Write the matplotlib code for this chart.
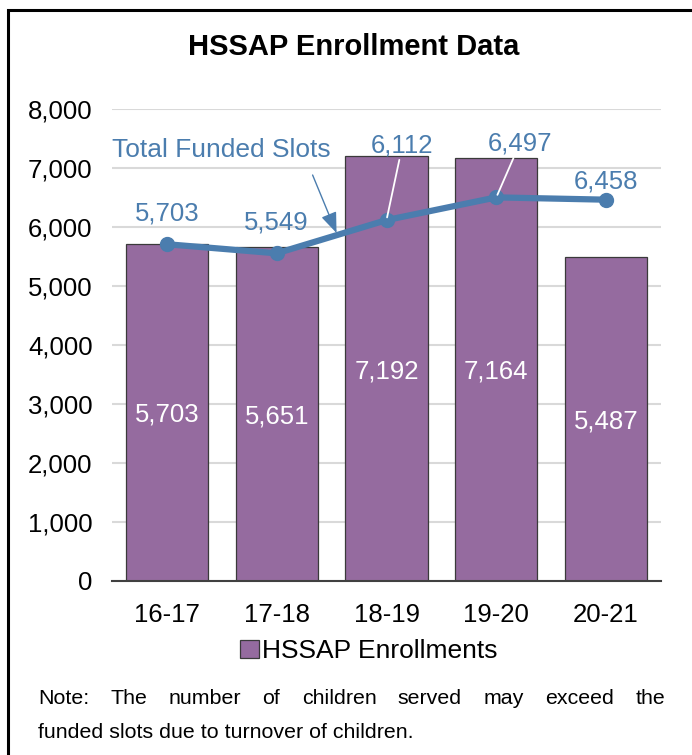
import matplotlib
matplotlib.use("Agg")
import matplotlib.pyplot as plt
from matplotlib.patches import Rectangle
from matplotlib.ticker import FuncFormatter

plt.rcParams['font.family'] = ['Liberation Sans', 'DejaVu Sans']

# ---- data ----
years = ["16-17", "17-18", "18-19", "19-20", "20-21"]
enrollments = [5703, 5651, 7192, 7164, 5487]
funded_slots = [5703, 5549, 6112, 6497, 6458]
y_ticks = [0, 1000, 2000, 3000, 4000, 5000, 6000, 7000, 8000]

title = "HSSAP Enrollment Data"
bar_name = "HSSAP Enrollments"
line_name = "Total Funded Slots"
note_lines = ["Note: The number of children served may exceed the",
              "funded slots due to turnover of children."]

# ---- style ----
BAR_COLOR = "#956B9F"
BAR_EDGE = "#3A3A3A"
LINE_COLOR = "#4B7DAE"
GRID_COLOR = "#D9D9D9"
FS = 18.5

W, H = 692, 755
fig = plt.figure(figsize=(W / 100, H / 100), dpi=100)

# outer frame of the chart area (runs off the right and bottom edges)
fig.patches.append(Rectangle((8 / W, -0.1), 1.2, 1.1 - 10 / H, transform=fig.transFigure,
                             fill=False, edgecolor="black", linewidth=2.2, clip_on=False))

ax = fig.add_axes([112 / W, 1 - 580.7 / H, (661 - 112) / W, (580.7 - 108.7) / H])
x = list(range(len(years)))

ax.bar(x, enrollments, width=0.75, color=BAR_COLOR, edgecolor=BAR_EDGE,
       linewidth=0.9, zorder=2)
for xi, v in zip(x, enrollments):
    ax.text(xi, v / 2, f"{v:,}", ha="center", va="center_baseline", color="white",
            fontsize=FS, zorder=3)

ax.plot(x, funded_slots, color=LINE_COLOR, linewidth=4.5, marker="o",
        markersize=10, zorder=4, solid_capstyle="round")

# value labels for the funded-slot line: (dx, dy) offsets in points, leader line flag
label_offsets = [(0, 22, False), (0, 22, False), (11.5, 54, True), (17, 39, True), (0, 13, False)]
for xi, v, (dx, dy, leader) in zip(x, funded_slots, label_offsets):
    props = None
    if leader:
        props = dict(arrowstyle="-", color="white", lw=1.3, shrinkA=0, shrinkB=2)
    ax.annotate(f"{v:,}", xy=(xi, v), xytext=(dx, dy), textcoords="offset points",
                ha="center", va="center", color=LINE_COLOR, fontsize=FS,
                arrowprops=props, zorder=5)

# series name with pointer arrow
ax.text(-0.5, 7300, line_name, ha="left", va="center", color=LINE_COLOR,
        fontsize=19, zorder=5)
ax.annotate("", xy=(1.545, 5893), xytext=(1.327, 6876),
            arrowprops=dict(arrowstyle="-|>,head_length=0.9,head_width=0.35",
                            color=LINE_COLOR, lw=1.0, mutation_scale=14,
                            shrinkA=0, shrinkB=0), zorder=5)

ax.set_xlim(-0.5, len(years) - 0.5)
ax.set_ylim(0, 8000)
ax.set_yticks(y_ticks)
ax.yaxis.set_major_formatter(FuncFormatter(lambda v, p: f"{int(v):,}"))
ax.set_xticks(x)
ax.set_xticklabels(years)
ax.tick_params(axis="y", length=0, pad=14, labelsize=FS)
ax.tick_params(axis="x", length=0, pad=16, labelsize=FS)
ax.grid(axis="y", color=GRID_COLOR, linewidth=1.5, zorder=0)
ax.set_axisbelow(True)
for s in ("left", "right", "top"):
    ax.spines[s].set_visible(False)
ax.spines["bottom"].set_color("#404040")
ax.spines["bottom"].set_linewidth(1.5)
ax.spines["bottom"].set_zorder(3)

fig.text(354 / W, 1 - 47 / H, title, ha="center", va="center", fontsize=21,
         fontweight="bold")

legend_handle = Rectangle((0, 0), 1, 1, facecolor=BAR_COLOR, edgecolor=BAR_EDGE, linewidth=0.9)
fig.legend([legend_handle], [bar_name], loc="center", bbox_to_anchor=(369 / W, 1 - 651 / H),
           frameon=False, fontsize=19, handlelength=0.7, handleheight=0.7,
           handletextpad=0.15, borderpad=0)

# note: first line justified between the left and right margins
fig.canvas.draw()
renderer = fig.canvas.get_renderer()
left_px, right_px = 38, 665
NOTE_FS = 15.4
words = note_lines[0].split()
word_texts = [fig.text(0, 1 - 697 / H, w, ha="left", va="center_baseline", fontsize=NOTE_FS)
              for w in words]
widths = [t.get_window_extent(renderer).width for t in word_texts]
gap = (right_px - left_px - sum(widths)) / (len(words) - 1)
pos = left_px
for t, w in zip(word_texts, widths):
    t.set_x(pos / W)
    pos += w + gap
fig.text(left_px / W, 1 - 731 / H, note_lines[1], ha="left", va="center_baseline",
         fontsize=NOTE_FS)

fig.savefig("out.png", dpi=100)
